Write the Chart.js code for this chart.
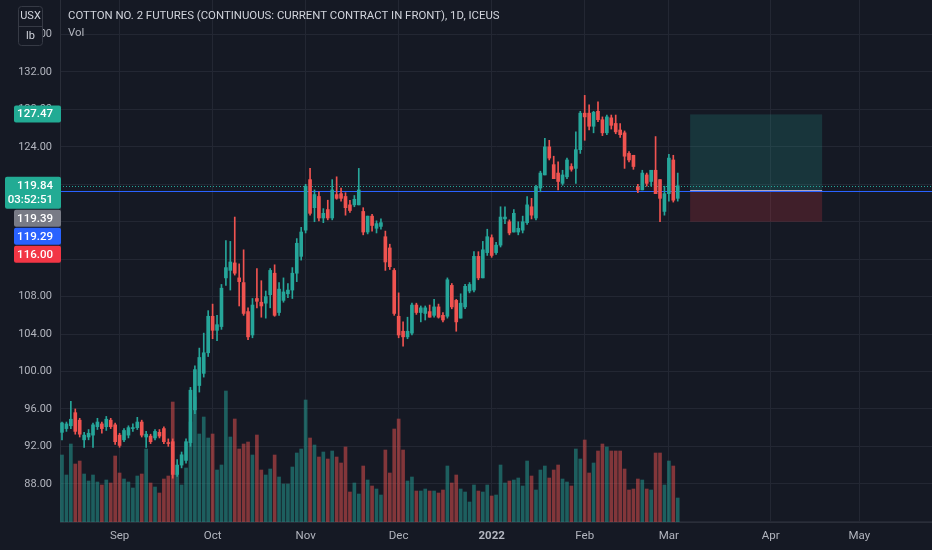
<!DOCTYPE html>
<html><head><meta charset="utf-8">
<script src="https://cdn.jsdelivr.net/npm/chart.js@4.4.1/dist/chart.umd.min.js"></script>
<style>html,body{margin:0;padding:0;background:#151924;overflow:hidden}</style>
</head><body>
<canvas id="c" width="932" height="550"></canvas>
<script>
// ---- data (daily bars, 13 Aug 2021 .. 3 Mar 2022) ----
const openP = [93.5,93.9,94.2,95.6,94.8,92.7,93.0,93.2,94.1,94.4,
 94.1,94.8,94.3,93.2,92.7,93.2,93.9,94.0,94.6,93.0,
 93.1,92.9,93.5,93.9,92.4,92.5,89.0,90.0,90.5,92.4,
 95.9,98.5,99.8,102.0,105.9,104.4,104.8,110.0,110.8,111.6,
 110.0,109.5,106.4,103.9,107.8,107.4,107.3,108.2,110.5,106.3,
 107.6,108.3,108.7,110.5,112.3,115.1,120.5,117.5,118.7,116.4,
 117.3,116.4,118.9,119.0,118.7,117.8,117.8,117.8,117.1,114.9,
 116.6,115.3,115.5,114.4,113.2,110.8,105.9,104.3,103.7,104.1,
 107.1,106.3,106.2,106.4,106.0,106.9,106.0,105.9,109.2,107.6,
 105.7,106.9,108.6,108.7,112.3,110.0,112.7,114.3,112.7,113.5,
 116.3,116.0,114.9,114.9,115.1,115.9,117.6,116.4,119.6,121.0,
 124.0,122.1,121.2,120.1,120.8,121.9,121.7,123.7,127.6,127.6,
 126.2,127.8,126.9,125.5,127.1,126.5,125.8,125.5,123.3,123.1,
 119.7,119.4,121.0,120.3,121.5,120.5,117.1,119.0,122.6,118.5];
const highP = [94.6,94.6,96.8,96.0,95.0,93.5,93.8,94.5,95.0,94.6,
 95.2,95.0,94.5,93.4,93.9,94.2,94.4,95.1,94.8,93.6,
 93.3,93.8,93.8,94.1,92.8,92.8,90.6,91.4,92.8,98.3,
 100.6,102.5,104.1,106.5,107.2,106.0,109.3,114.0,113.9,116.5,
 111.5,113.0,106.8,107.8,111.0,109.7,108.6,111.0,111.4,109.5,
 110.0,109.4,111.1,114.2,115.4,120.0,121.7,119.4,119.2,117.4,
 118.3,120.5,120.8,119.6,119.1,118.3,118.8,121.7,117.5,116.6,
 116.8,116.1,116.3,115.0,113.6,111.0,108.4,105.3,105.8,107.3,
 107.3,107.0,107.0,107.1,107.7,107.2,106.3,110.0,109.4,107.7,
 108.3,109.3,109.5,112.8,112.8,113.9,115.2,114.6,113.8,117.6,
 117.6,116.2,117.3,116.0,116.6,118.7,118.5,119.9,121.4,124.9,
 124.7,123.0,122.4,121.5,122.8,122.2,125.6,127.8,129.5,128.5,
 127.8,128.8,127.2,127.4,127.4,127.4,126.5,125.7,123.5,123.1,
 120.0,121.5,121.2,121.5,125.1,120.5,119.8,123.2,123.1,121.2];
const lowP = [92.7,93.6,93.9,93.3,93.0,91.9,92.7,91.9,93.8,93.4,
 93.7,93.9,92.2,91.9,92.5,92.9,93.6,93.8,93.0,91.9,
 92.3,92.7,92.9,92.3,92.0,88.6,88.8,89.7,90.2,92.0,
 95.5,97.8,99.4,101.6,103.5,103.3,104.5,109.2,108.7,110.3,
 107.0,106.0,103.4,103.6,106.8,105.8,105.7,106.8,105.9,106.0,
 107.4,107.9,107.8,109.6,111.9,114.8,116.7,116.0,116.1,115.9,
 116.2,116.2,118.4,118.2,116.7,117.0,117.6,117.8,114.6,114.7,
 115.0,114.8,115.2,110.8,110.9,106.0,103.6,102.7,103.5,103.9,
 106.1,105.3,105.5,105.8,105.8,105.7,105.3,105.7,106.7,104.3,
 105.7,106.7,108.4,108.5,109.8,110.0,112.4,112.2,112.5,113.3,
 115.8,114.6,114.9,114.6,114.8,115.7,116.3,116.2,119.2,121.0,
 122.6,120.6,119.4,119.9,120.6,121.4,120.1,123.3,124.7,125.8,
 125.5,126.7,125.2,125.3,125.9,125.4,125.0,121.7,122.4,121.6,
 119.1,119.4,119.8,119.8,119.0,116.0,116.7,118.2,118.1,118.2];
const closeP = [94.5,94.4,94.9,93.6,93.3,93.2,93.4,94.3,94.6,93.9,
 94.9,94.1,92.5,92.1,93.7,94.0,94.0,94.6,93.2,93.3,
 92.5,93.6,93.1,92.5,92.3,89.0,90.0,91.1,92.5,98.0,
 100.2,101.5,102.0,105.9,104.4,105.0,108.9,111.1,111.7,110.5,
 109.6,106.2,103.7,107.1,107.5,107.0,108.0,110.8,106.0,108.8,
 108.5,108.7,110.5,113.7,114.9,119.8,116.9,118.9,116.4,116.9,
 116.4,119.4,118.5,118.5,117.5,117.2,118.4,119.4,114.9,116.6,
 115.6,115.8,115.9,111.7,111.2,106.2,103.9,103.7,104.3,107.1,
 106.3,106.8,106.8,105.8,106.9,105.8,105.5,109.8,106.9,105.3,
 107.3,109.1,109.3,112.3,110.0,113.0,114.4,112.4,113.5,116.5,
 116.5,114.8,116.9,115.3,116.0,117.8,116.7,119.7,121.2,124.0,
 122.8,120.6,120.3,121.0,122.6,121.6,123.7,127.6,127.2,126.2,
 127.7,126.9,125.5,127.2,126.3,125.6,125.3,123.0,122.6,121.9,
 119.4,121.2,120.1,121.5,119.0,118.5,119.0,122.8,118.3,119.84];
const volume = [67,47,78,58,61,48,41,47,40,37,
 42,39,66,49,43,40,34,46,48,73,
 39,35,29,43,46,120,48,37,54,100,
 125,88,105,84,88,52,57,131,85,103,
 73,78,80,67,87,52,47,53,67,45,
 38,38,55,69,73,122,84,77,65,70,
 63,71,65,59,75,30,39,28,56,42,
 36,33,27,72,49,93,103,72,41,45,
 31,31,33,31,31,29,32,56,39,47,
 33,30,20,37,31,30,37,26,27,57,
 39,41,42,44,36,61,46,32,52,56,
 44,52,57,43,40,36,73,63,82,49,
 59,71,78,75,71,71,71,53,32,33,
 43,42,33,32,69,69,37,61,56,24];
const monthTickIndex = [13,34,55,76,97,118,137,160,180];
const monthTickLabel = ['Sep','Oct','Nov','Dec','2022','Feb','Mar','Apr','May'];
const titleText = 'COTTON NO. 2 FUTURES (CONTINUOUS: CURRENT CONTRACT IN FRONT), 1D, ICEUS';
const volLabel = 'Vol';
const currencyUnit = ['USX','lb'];
const lastPrice = 119.84;
const countdownText = '03:52:51';
const positionEntry = 119.39;
const positionTarget = 127.47;
const positionStop = 116.00;
const positionFromTo = [141.8, 171.6];
const alertPrice = 119.29;

// ---- styles ----
const UP = '#26a69a', DOWN = '#ef5350';
const UP_VOL = 'rgba(38,166,154,0.5)', DOWN_VOL = 'rgba(239,83,80,0.5)';
const GRID = '#232733', TXT = '#b2b5be', BG = '#151924';
const FONT = 'Roboto';

const idx = openP.map((_, i) => i);
const isUp = i => closeP[i] >= openP[i];

const overlay = {
  id: 'tvOverlay',
  beforeDatasetsDraw(chart) {
    const {ctx, chartArea: a, scales: {x, y}} = chart;
    ctx.save();
    const x0 = x.getPixelForValue(positionFromTo[0]), x1 = x.getPixelForValue(positionFromTo[1]);
    const yT = y.getPixelForValue(positionTarget), yE = y.getPixelForValue(positionEntry), yS = y.getPixelForValue(positionStop);
    ctx.fillStyle = 'rgba(38,166,154,0.2)';
    ctx.fillRect(x0, yT, x1 - x0, yE - yT);
    ctx.fillStyle = 'rgba(242,54,69,0.2)';
    ctx.fillRect(x0, yE, x1 - x0, yS - yE);
    const yL = Math.round(y.getPixelForValue(lastPrice)) + 0.5;
    ctx.strokeStyle = UP; ctx.lineWidth = 1; ctx.setLineDash([1, 2]);
    ctx.beginPath(); ctx.moveTo(a.left, yL); ctx.lineTo(a.right, yL); ctx.stroke();
    ctx.setLineDash([]);
    const yA = Math.round(y.getPixelForValue(alertPrice)) + 0.5;
    ctx.strokeStyle = '#2962ff';
    ctx.beginPath(); ctx.moveTo(a.left, yA); ctx.lineTo(a.right, yA); ctx.stroke();
    ctx.strokeStyle = 'rgba(200,195,235,0.8)';
    ctx.beginPath(); ctx.moveTo(x0, Math.round(yE) + 0.5); ctx.lineTo(x1, Math.round(yE) + 0.5); ctx.stroke();
    ctx.restore();
  },
  afterDraw(chart) {
    const {ctx, scales: {y}} = chart;
    ctx.save();
    ctx.textBaseline = 'middle'; ctx.textAlign = 'left';
    ctx.font = '11.4px ' + FONT; ctx.fillStyle = '#d1d4dc';
    ctx.fillText(titleText, 68, 16);
    ctx.fillStyle = TXT;
    ctx.fillText(volLabel, 68, 33.5);
    const rr = (x, yy, w, h, r) => { ctx.beginPath(); ctx.moveTo(x + r, yy); ctx.lineTo(x + w - r, yy); ctx.quadraticCurveTo(x + w, yy, x + w, yy + r); ctx.lineTo(x + w, yy + h - r); ctx.quadraticCurveTo(x + w, yy + h, x + w - r, yy + h); ctx.lineTo(x + r, yy + h); ctx.quadraticCurveTo(x, yy + h, x, yy + h - r); ctx.lineTo(x, yy + r); ctx.quadraticCurveTo(x, yy, x + r, yy); ctx.closePath(); };
    rr(18.5, 6.5, 24, 39, 3);
    ctx.fillStyle = BG; ctx.fill();
    ctx.strokeStyle = '#363a45'; ctx.lineWidth = 1; ctx.stroke();
    ctx.beginPath(); ctx.moveTo(18.5, 26.5); ctx.lineTo(42.5, 26.5); ctx.stroke();
    ctx.textAlign = 'center'; ctx.fillStyle = '#d1d4dc'; ctx.font = '11px ' + FONT;
    ctx.fillText(currencyUnit[0], 30.5, 16.5);
    ctx.fillText(currencyUnit[1], 30.5, 36.5);
    const badges = [
      {p: positionTarget, lines: [positionTarget.toFixed(2)], c: '#22ab94', l: 14},
      {p: lastPrice, lines: [lastPrice.toFixed(2), countdownText], c: '#22ab94', l: 5},
      {p: positionEntry, lines: [positionEntry.toFixed(2)], c: '#787b86', l: 14},
      {p: alertPrice, lines: [alertPrice.toFixed(2)], c: '#2962ff', l: 14},
      {p: positionStop, lines: [positionStop.toFixed(2)], c: '#f23645', l: 14}
    ];
    let prevBottom = -1e9;
    ctx.font = '500 11.5px ' + FONT; ctx.textAlign = 'right';
    badges.forEach(b => {
      const h = b.lines.length === 2 ? 32 : 17;
      const top = Math.max(y.getPixelForValue(b.p) - 9, prevBottom + 1);
      rr(b.l, top, 61 - b.l, h, 2);
      ctx.fillStyle = b.c; ctx.fill();
      ctx.fillStyle = '#ffffff';
      b.lines.forEach((t, k) => ctx.fillText(t, 53, top + 9 + k * 14));
      prevBottom = top + h;
    });
    ctx.restore();
  }
};

new Chart(document.getElementById('c'), {
  type: 'bar',
  data: {
    datasets: [
      { label: 'body', data: idx.map(i => ({x: i, y: [openP[i], closeP[i]]})),
        backgroundColor: c => isUp(c.dataIndex) ? UP : DOWN, barThickness: 3, minBarLength: 1,
        grouped: false, order: 1, yAxisID: 'y' },
      { label: 'wick', data: idx.map(i => ({x: i, y: [lowP[i], highP[i]]})),
        backgroundColor: c => isUp(c.dataIndex) ? UP : DOWN, barThickness: 1,
        grouped: false, order: 2, yAxisID: 'y' },
      { label: 'vol', data: idx.map(i => ({x: i, y: volume[i]})),
        backgroundColor: c => isUp(c.dataIndex) ? UP_VOL : DOWN_VOL, barThickness: 3,
        grouped: false, order: 3, yAxisID: 'yv' }
    ]
  },
  options: {
    responsive: false, animation: false,
    layout: {padding: 0},
    plugins: {legend: {display: false}, tooltip: {enabled: false}},
    scales: {
      x: {
        type: 'linear', min: -0.45, max: 196.4, offset: false,
        afterBuildTicks: s => { s.ticks = monthTickIndex.map(v => ({value: v})); },
        afterFit: s => { s.height = 28; s.paddingLeft = 0; s.paddingRight = 0; },
        ticks: { autoSkip: false, maxRotation: 0, padding: 7, color: TXT,
          font: c => ({family: FONT, size: 11.5, weight: monthTickLabel[c.index] === '2022' ? 'bold' : 'normal'}),
          callback: v => monthTickLabel[monthTickIndex.indexOf(v)] },
        grid: { color: GRID, drawTicks: false, offset: false },
        border: { color: '#2a2e39' }
      },
      y: {
        position: 'left', min: 83.92, max: 139.69,
        afterFit: s => { s.width = 60; s.paddingTop = 0; s.paddingBottom = 0; },
        ticks: { stepSize: 4, includeBounds: false, padding: 8, color: TXT,
          font: {family: FONT, size: 11},
          callback: v => v <= 84 ? '' : Number(v).toFixed(2) },
        grid: { color: GRID, drawTicks: false },
        border: { color: '#2a2e39' }
      },
      yv: { display: false, min: 0, max: 522 }
    }
  },
  plugins: [overlay]
});
</script>
</body></html>
